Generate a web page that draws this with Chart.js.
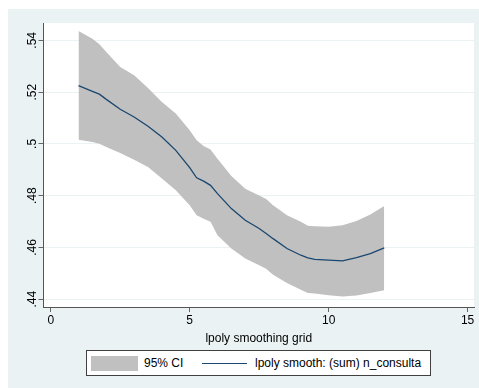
<!DOCTYPE html>
<html>
<head>
<meta charset="utf-8">
<script src="https://cdn.jsdelivr.net/npm/chart.js@4"></script>
<style>
  body { margin: 0; background: #fff; }
  .graph__box {
    position: absolute; left: 8px; top: 9px; width: 471px; height: 379px;
    background: #eaf2f3;
  }
  .legend__box {
    position: absolute; left: 78px; top: 341px; width: 343px; height: 24px;
    background: #fff; border: 1px solid #404040;
    font: 12px "Liberation Sans", Arial, sans-serif; color: #000;
  }
  .legend__swatch { position: absolute; left: 4px; top: 5px; width: 47px; height: 15px; background: #c0c0c0; }
  .legend__line { position: absolute; left: 115px; top: 12px; width: 45px; height: 0; border-top: 1.3px solid #1a476f; }
  .legend__text { position: absolute; top: 5px; line-height: 14px; white-space: nowrap; }
</style>
</head>
<body>
<div class="graph__box">
  <canvas id="myChart" width="471" height="379"></canvas>
  <div class="legend__box">
    <div class="legend__swatch"></div>
    <div class="legend__text" style="left:57px">95% CI</div>
    <div class="legend__line"></div>
    <div class="legend__text" style="left:168px">lpoly smooth: (sum) n_consulta</div>
  </div>
</div>
<script>
// =====DATA===============================================================
const gridX = [1, 1.5, 1.75, 2, 2.5, 3, 3.5, 4, 4.5, 5, 5.25, 5.5, 5.75, 6, 6.5, 7,
  7.5, 7.75, 8, 8.5, 9, 9.25, 9.5, 10, 10.5, 11, 11.5, 12];
const smoothY = [.5225, .5203, .5192, .5172, .5134, .5104, .5068, .5027, .4975, .4908,
  .4869, .4856, .484, .4808, .475, .4705, .4673, .4654, .4634, .4596, .457, .456,
  .4554, .4551, .4548, .4561, .4576, .4598];
const ciUpper = [.5436, .5406, .5385, .5355, .5297, .5265, .5216, .5162, .5117, .5053,
  .5014, .4992, .4978, .4943, .4876, .4827, .4801, .4787, .4763, .4724, .4699, .4684,
  .4682, .468, .4686, .4702, .4727, .476];
const ciLower = [.5016, .5007, .5001, .4988, .4965, .4939, .4911, .4866, .4821, .4763,
  .4724, .4711, .4699, .4647, .4596, .4557, .4531, .4518, .4495, .4463, .4437, .4424,
  .4422, .4415, .4411, .4414, .4424, .4435];
const xTicks = [0, 5, 10, 15];
const yTicks = [.44, .46, .48, .5, .52, .54];

const toPoints = (ys) => gridX.map((x, i) => ({ x: x, y: ys[i] }));
const stataLabel = (v) => v.toFixed(2).replace(/^0/, "").replace(/0$/, "");

// rotated y labels, Stata style
const yLabelPlugin = {
  id: "yLabels",
  afterDraw(chart) {
    const ctx = chart.ctx;
    const scale = chart.scales.y;
    ctx.save();
    ctx.font = '12px "Liberation Sans", Arial, sans-serif';
    ctx.fillStyle = "#000";
    ctx.textAlign = "center";
    ctx.textBaseline = "middle";
    yTicks.forEach((v) => {
      ctx.save();
      ctx.translate(scale.right - 10.5, scale.getPixelForValue(v));
      ctx.rotate(-Math.PI / 2);
      ctx.fillText(stataLabel(v), 0, 0);
      ctx.restore();
    });
    ctx.restore();
  },
};

let myChart = document.getElementById("myChart").getContext("2d");
let lineChart = new Chart(myChart, {
  type: "line",
  data: {
    datasets: [
      {
        label: "lpoly smooth: (sum) n_consulta",
        data: toPoints(smoothY),
        borderColor: "#1a476f",
        borderWidth: 1.3,
        pointRadius: 0,
        fill: false,
        tension: 0,
      },
      {
        label: "95% CI",
        data: toPoints(ciUpper),
        borderWidth: 0,
        pointRadius: 0,
        backgroundColor: "#c0c0c0",
        fill: "+1",
        tension: 0,
      },
      {
        label: "lower",
        data: toPoints(ciLower),
        borderWidth: 0,
        pointRadius: 0,
        fill: false,
        tension: 0,
      },
    ],
  },
  options: {
    responsive: false,
    animation: false,
    layout: { padding: { left: 0, top: 14, right: 5, bottom: 42 } },
    plugins: {
      legend: { display: false },
      tooltip: { enabled: false },
    },
    scales: {
      x: {
        type: "linear",
        min: -0.26,
        max: 15.23,
        afterBuildTicks: (s) => { s.ticks = xTicks.map((v) => ({ value: v })); },
        afterFit: (s) => { s.height = 39; },
        grid: { drawOnChartArea: false, drawTicks: true, tickLength: 5, tickColor: "#666" },
        border: { display: true, color: "#555", width: 1 },
        ticks: {
          padding: 1,
          color: "#000",
          font: { family: '"Liberation Sans", Arial, sans-serif', size: 12 },
        },
        title: {
          display: true,
          text: "lpoly smoothing grid",
          color: "#000",
          padding: { top: 0, bottom: 0 },
          font: { family: '"Liberation Sans", Arial, sans-serif', size: 12 },
        },
      },
      y: {
        min: 0.437,
        max: 0.5467,
        afterBuildTicks: (s) => { s.ticks = yTicks.map((v) => ({ value: v })); },
        afterFit: (s) => { s.width = 35.5; },
        grid: { color: "#eaf2f3", drawTicks: true, tickLength: 5, tickColor: "#666" },
        border: { display: true, color: "#555", width: 1 },
        ticks: { display: false },
      },
    },
  },
  plugins: [
    yLabelPlugin,
    {
      id: "plotBg",
      beforeDraw(chart) {
        const a = chart.chartArea;
        chart.ctx.save();
        chart.ctx.fillStyle = "#fff";
        chart.ctx.fillRect(a.left, a.top, a.right - a.left, a.bottom - a.top);
        chart.ctx.restore();
      },
    },
  ],
});
</script>
</body>
</html>
